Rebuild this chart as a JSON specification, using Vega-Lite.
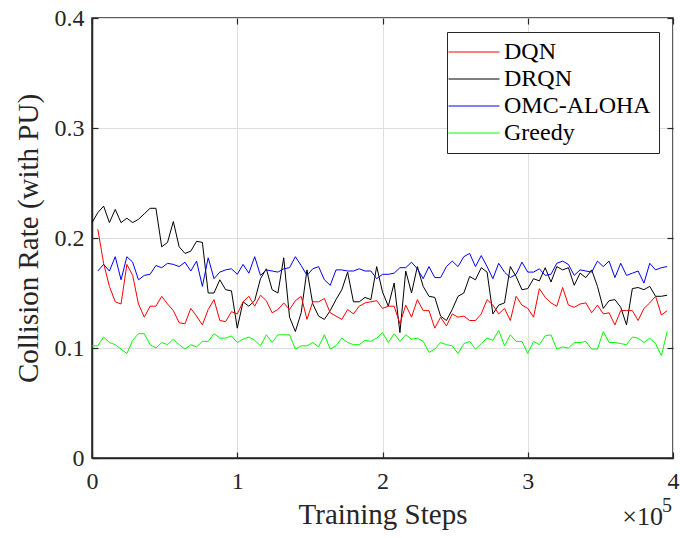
{
  "$schema": "https://vega.github.io/schema/vega-lite/v6.json",
  "width": 581,
  "height": 440,
  "autosize": "none",
  "padding": {"left": 92, "top": 18, "right": 7, "bottom": 80},
  "background": "white",
  "config": {
    "font": "Liberation Serif",
    "view": {"stroke": "#262626", "strokeWidth": 1.5},
    "axis": {
      "labelFont": "Liberation Serif",
      "titleFont": "Liberation Serif",
      "labelColor": "#262626",
      "titleColor": "#262626",
      "titleFontWeight": "normal",
      "domainColor": "#262626",
      "domainWidth": 1.5,
      "tickColor": "#262626",
      "tickWidth": 1.2,
      "gridColor": "#dedede",
      "gridWidth": 1
    }
  },
  "resolve": {"axis": {"x": "independent", "y": "independent"}},
  "datasets": {
    "curves": [
      {"step": 0, "DRQN": 0.214, "Greedy": 0.102},
      {"step": 4000, "DQN": 0.208, "DRQN": 0.223, "OMC-ALOHA": 0.170, "Greedy": 0.102},
      {"step": 8000, "DQN": 0.177, "DRQN": 0.229, "OMC-ALOHA": 0.176, "Greedy": 0.110},
      {"step": 12000, "DQN": 0.156, "DRQN": 0.214, "OMC-ALOHA": 0.170, "Greedy": 0.105},
      {"step": 16000, "DQN": 0.142, "DRQN": 0.226, "OMC-ALOHA": 0.183, "Greedy": 0.103},
      {"step": 20000, "DQN": 0.140, "DRQN": 0.214, "OMC-ALOHA": 0.162, "Greedy": 0.099},
      {"step": 24000, "DQN": 0.176, "DRQN": 0.218, "OMC-ALOHA": 0.183, "Greedy": 0.095},
      {"step": 28000, "DQN": 0.166, "DRQN": 0.214, "OMC-ALOHA": 0.178, "Greedy": 0.107},
      {"step": 32000, "DQN": 0.140, "DRQN": 0.217, "OMC-ALOHA": 0.162, "Greedy": 0.113},
      {"step": 36000, "DQN": 0.128, "DRQN": 0.222, "OMC-ALOHA": 0.166, "Greedy": 0.113},
      {"step": 40000, "DQN": 0.138, "DRQN": 0.227, "OMC-ALOHA": 0.167, "Greedy": 0.103},
      {"step": 44000, "DQN": 0.138, "DRQN": 0.227, "OMC-ALOHA": 0.175, "Greedy": 0.100},
      {"step": 48000, "DQN": 0.147, "DRQN": 0.192, "OMC-ALOHA": 0.173, "Greedy": 0.105},
      {"step": 52000, "DQN": 0.140, "DRQN": 0.196, "OMC-ALOHA": 0.177, "Greedy": 0.103},
      {"step": 56000, "DQN": 0.134, "DRQN": 0.215, "OMC-ALOHA": 0.176, "Greedy": 0.108},
      {"step": 60000, "DQN": 0.123, "DRQN": 0.192, "OMC-ALOHA": 0.174, "Greedy": 0.103},
      {"step": 64000, "DQN": 0.122, "DRQN": 0.186, "OMC-ALOHA": 0.178, "Greedy": 0.099},
      {"step": 68000, "DQN": 0.136, "DRQN": 0.188, "OMC-ALOHA": 0.170, "Greedy": 0.103},
      {"step": 72000, "DQN": 0.129, "DRQN": 0.197, "OMC-ALOHA": 0.179, "Greedy": 0.101},
      {"step": 76000, "DQN": 0.121, "DRQN": 0.196, "OMC-ALOHA": 0.156, "Greedy": 0.106},
      {"step": 80000, "DQN": 0.135, "DRQN": 0.150, "OMC-ALOHA": 0.182, "Greedy": 0.106},
      {"step": 84000, "DQN": 0.144, "DRQN": 0.150, "OMC-ALOHA": 0.163, "Greedy": 0.113},
      {"step": 88000, "DQN": 0.125, "DRQN": 0.162, "OMC-ALOHA": 0.169, "Greedy": 0.109},
      {"step": 92000, "DQN": 0.124, "DRQN": 0.153, "OMC-ALOHA": 0.171, "Greedy": 0.109},
      {"step": 96000, "DQN": 0.133, "DRQN": 0.152, "OMC-ALOHA": 0.172, "Greedy": 0.111},
      {"step": 100000, "DQN": 0.131, "DRQN": 0.118, "OMC-ALOHA": 0.167, "Greedy": 0.105},
      {"step": 104000, "DQN": 0.142, "DRQN": 0.142, "OMC-ALOHA": 0.176, "Greedy": 0.108},
      {"step": 108000, "DQN": 0.147, "DRQN": 0.138, "OMC-ALOHA": 0.168, "Greedy": 0.110},
      {"step": 112000, "DQN": 0.138, "DRQN": 0.143, "OMC-ALOHA": 0.183, "Greedy": 0.107},
      {"step": 116000, "DQN": 0.148, "DRQN": 0.163, "OMC-ALOHA": 0.166, "Greedy": 0.102},
      {"step": 120000, "DQN": 0.143, "DRQN": 0.172, "OMC-ALOHA": 0.171, "Greedy": 0.112},
      {"step": 124000, "DQN": 0.132, "DRQN": 0.153, "OMC-ALOHA": 0.170, "Greedy": 0.105},
      {"step": 128000, "DQN": 0.135, "DRQN": 0.150, "OMC-ALOHA": 0.169, "Greedy": 0.112},
      {"step": 132000, "DQN": 0.141, "DRQN": 0.182, "OMC-ALOHA": 0.172, "Greedy": 0.112},
      {"step": 136000, "DQN": 0.135, "DRQN": 0.128, "OMC-ALOHA": 0.173, "Greedy": 0.112},
      {"step": 140000, "DQN": 0.143, "DRQN": 0.115, "OMC-ALOHA": 0.183, "Greedy": 0.099},
      {"step": 144000, "DQN": 0.147, "DRQN": 0.132, "OMC-ALOHA": 0.175, "Greedy": 0.102},
      {"step": 148000, "DQN": 0.126, "DRQN": 0.171, "OMC-ALOHA": 0.166, "Greedy": 0.102},
      {"step": 152000, "DQN": 0.142, "DRQN": 0.140, "OMC-ALOHA": 0.172, "Greedy": 0.105},
      {"step": 156000, "DQN": 0.142, "DRQN": 0.129, "OMC-ALOHA": 0.174, "Greedy": 0.101},
      {"step": 160000, "DQN": 0.145, "DRQN": 0.126, "OMC-ALOHA": 0.162, "Greedy": 0.112},
      {"step": 164000, "DQN": 0.132, "DRQN": 0.134, "OMC-ALOHA": 0.157, "Greedy": 0.099},
      {"step": 168000, "DQN": 0.129, "DRQN": 0.144, "OMC-ALOHA": 0.171, "Greedy": 0.102},
      {"step": 172000, "DQN": 0.126, "DRQN": 0.153, "OMC-ALOHA": 0.171, "Greedy": 0.109},
      {"step": 176000, "DQN": 0.135, "DRQN": 0.169, "OMC-ALOHA": 0.170, "Greedy": 0.105},
      {"step": 180000, "DQN": 0.131, "DRQN": 0.142, "OMC-ALOHA": 0.170, "Greedy": 0.103},
      {"step": 184000, "DQN": 0.138, "DRQN": 0.142, "OMC-ALOHA": 0.172, "Greedy": 0.103},
      {"step": 188000, "DQN": 0.141, "DRQN": 0.146, "OMC-ALOHA": 0.170, "Greedy": 0.107},
      {"step": 192000, "DQN": 0.142, "DRQN": 0.144, "OMC-ALOHA": 0.170, "Greedy": 0.106},
      {"step": 196000, "DQN": 0.143, "DRQN": 0.174, "OMC-ALOHA": 0.163, "Greedy": 0.109},
      {"step": 200000, "DQN": 0.136, "DRQN": 0.151, "OMC-ALOHA": 0.167, "Greedy": 0.114},
      {"step": 204000, "DQN": 0.138, "DRQN": 0.138, "OMC-ALOHA": 0.167, "Greedy": 0.105},
      {"step": 208000, "DQN": 0.138, "DRQN": 0.159, "OMC-ALOHA": 0.168, "Greedy": 0.113},
      {"step": 212000, "DQN": 0.122, "DRQN": 0.114, "OMC-ALOHA": 0.173, "Greedy": 0.106},
      {"step": 216000, "DQN": 0.139, "DRQN": 0.170, "OMC-ALOHA": 0.173, "Greedy": 0.112},
      {"step": 220000, "DQN": 0.128, "DRQN": 0.150, "OMC-ALOHA": 0.178, "Greedy": 0.108},
      {"step": 224000, "DQN": 0.144, "DRQN": 0.174, "OMC-ALOHA": 0.172, "Greedy": 0.109},
      {"step": 228000, "DQN": 0.134, "DRQN": 0.156, "OMC-ALOHA": 0.163, "Greedy": 0.106},
      {"step": 232000, "DQN": 0.134, "DRQN": 0.147, "OMC-ALOHA": 0.174, "Greedy": 0.096},
      {"step": 236000, "DQN": 0.118, "DRQN": 0.146, "OMC-ALOHA": 0.164, "Greedy": 0.099},
      {"step": 240000, "DQN": 0.128, "DRQN": 0.129, "OMC-ALOHA": 0.164, "Greedy": 0.105},
      {"step": 244000, "DQN": 0.120, "DRQN": 0.125, "OMC-ALOHA": 0.174, "Greedy": 0.103},
      {"step": 248000, "DQN": 0.131, "DRQN": 0.135, "OMC-ALOHA": 0.179, "Greedy": 0.102},
      {"step": 252000, "DQN": 0.128, "DRQN": 0.147, "OMC-ALOHA": 0.174, "Greedy": 0.095},
      {"step": 256000, "DQN": 0.129, "DRQN": 0.150, "OMC-ALOHA": 0.183, "Greedy": 0.104},
      {"step": 260000, "DQN": 0.125, "DRQN": 0.165, "OMC-ALOHA": 0.186, "Greedy": 0.106},
      {"step": 264000, "DQN": 0.125, "DRQN": 0.162, "OMC-ALOHA": 0.174, "Greedy": 0.099},
      {"step": 268000, "DQN": 0.131, "DRQN": 0.173, "OMC-ALOHA": 0.184, "Greedy": 0.104},
      {"step": 272000, "DQN": 0.144, "DRQN": 0.169, "OMC-ALOHA": 0.174, "Greedy": 0.109},
      {"step": 276000, "DQN": 0.139, "DRQN": 0.131, "OMC-ALOHA": 0.163, "Greedy": 0.107},
      {"step": 280000, "DQN": 0.131, "DRQN": 0.139, "OMC-ALOHA": 0.177, "Greedy": 0.116},
      {"step": 284000, "DQN": 0.136, "DRQN": 0.141, "OMC-ALOHA": 0.169, "Greedy": 0.102},
      {"step": 288000, "DQN": 0.125, "DRQN": 0.174, "OMC-ALOHA": 0.164, "Greedy": 0.112},
      {"step": 292000, "DQN": 0.147, "DRQN": 0.165, "OMC-ALOHA": 0.167, "Greedy": 0.106},
      {"step": 296000, "DQN": 0.139, "DRQN": 0.153, "OMC-ALOHA": 0.178, "Greedy": 0.106},
      {"step": 300000, "DQN": 0.136, "DRQN": 0.154, "OMC-ALOHA": 0.169, "Greedy": 0.095},
      {"step": 304000, "DQN": 0.128, "DRQN": 0.163, "OMC-ALOHA": 0.169, "Greedy": 0.106},
      {"step": 308000, "DQN": 0.154, "DRQN": 0.161, "OMC-ALOHA": 0.172, "Greedy": 0.103},
      {"step": 312000, "DQN": 0.146, "DRQN": 0.173, "OMC-ALOHA": 0.166, "Greedy": 0.111},
      {"step": 316000, "DQN": 0.141, "DRQN": 0.160, "OMC-ALOHA": 0.167, "Greedy": 0.112},
      {"step": 320000, "DQN": 0.138, "DRQN": 0.174, "OMC-ALOHA": 0.177, "Greedy": 0.099},
      {"step": 324000, "DQN": 0.155, "DRQN": 0.171, "OMC-ALOHA": 0.179, "Greedy": 0.101},
      {"step": 328000, "DQN": 0.139, "DRQN": 0.173, "OMC-ALOHA": 0.176, "Greedy": 0.100},
      {"step": 332000, "DQN": 0.137, "DRQN": 0.157, "OMC-ALOHA": 0.166, "Greedy": 0.105},
      {"step": 336000, "DQN": 0.140, "DRQN": 0.168, "OMC-ALOHA": 0.171, "Greedy": 0.105},
      {"step": 340000, "DQN": 0.141, "DRQN": 0.164, "OMC-ALOHA": 0.170, "Greedy": 0.106},
      {"step": 344000, "DQN": 0.132, "DRQN": 0.171, "OMC-ALOHA": 0.169, "Greedy": 0.099},
      {"step": 348000, "DQN": 0.139, "DRQN": 0.156, "OMC-ALOHA": 0.179, "Greedy": 0.099},
      {"step": 352000, "DQN": 0.131, "DRQN": 0.136, "OMC-ALOHA": 0.174, "Greedy": 0.115},
      {"step": 356000, "DQN": 0.132, "DRQN": 0.143, "OMC-ALOHA": 0.179, "Greedy": 0.105},
      {"step": 360000, "DQN": 0.121, "DRQN": 0.144, "OMC-ALOHA": 0.164, "Greedy": 0.105},
      {"step": 364000, "DQN": 0.134, "DRQN": 0.137, "OMC-ALOHA": 0.177, "Greedy": 0.104},
      {"step": 368000, "DQN": 0.134, "DRQN": 0.121, "OMC-ALOHA": 0.166, "Greedy": 0.103},
      {"step": 372000, "DQN": 0.134, "DRQN": 0.154, "OMC-ALOHA": 0.168, "Greedy": 0.110},
      {"step": 376000, "DQN": 0.125, "DRQN": 0.155, "OMC-ALOHA": 0.170, "Greedy": 0.109},
      {"step": 380000, "DQN": 0.136, "DRQN": 0.153, "OMC-ALOHA": 0.159, "Greedy": 0.105},
      {"step": 384000, "DQN": 0.141, "DRQN": 0.156, "OMC-ALOHA": 0.177, "Greedy": 0.109},
      {"step": 388000, "DQN": 0.147, "DRQN": 0.147, "OMC-ALOHA": 0.171, "Greedy": 0.104},
      {"step": 392000, "DQN": 0.130, "DRQN": 0.147, "OMC-ALOHA": 0.173, "Greedy": 0.093},
      {"step": 396000, "DQN": 0.134, "DRQN": 0.148, "OMC-ALOHA": 0.174, "Greedy": 0.115}
    ]
  },
  "layer": [
    {
      "data": {"name": "curves"},
      "transform": [
        {"fold": ["DQN", "DRQN", "OMC-ALOHA", "Greedy"], "as": ["method", "rate"]},
        {"filter": "isValid(datum.rate)"}
      ],
      "mark": {"type": "line", "strokeWidth": 1},
      "encoding": {
        "x": {
          "field": "step",
          "type": "quantitative",
          "scale": {"domain": [0, 400000], "nice": false, "zero": false},
          "axis": {
            "orient": "bottom",
            "title": "Training Steps",
            "titleFont": "Liberation Serif",
            "titleFontSize": 29,
            "titlePadding": 7,
            "values": [0, 100000, 200000, 300000, 400000],
            "labelExpr": "datum.value / 100000",
            "labelFont": "Liberation Serif",
            "labelFontSize": 24,
            "labelPadding": 17,
            "tickSize": -6,
            "labelFlush": false,
            "grid": true
          }
        },
        "y": {
          "field": "rate",
          "type": "quantitative",
          "scale": {"domain": [0, 0.4], "nice": false},
          "axis": {
            "orient": "left",
            "title": "Collision Rate (with PU)",
            "titleFont": "Liberation Serif",
            "titleFontSize": 29,
            "titlePadding": 11,
            "values": [0, 0.1, 0.2, 0.3, 0.4],
            "format": ".1~f",
            "labelFont": "Liberation Serif",
            "labelFontSize": 24,
            "labelPadding": 14,
            "tickSize": -6,
            "grid": true
          }
        },
        "color": {
          "field": "method",
          "type": "nominal",
          "sort": ["DQN", "DRQN", "OMC-ALOHA", "Greedy"],
          "scale": {
            "domain": ["DQN", "DRQN", "OMC-ALOHA", "Greedy"],
            "range": ["#ff0000", "#000000", "#0000ff", "#00ff00"]
          },
          "legend": {
            "title": null,
            "orient": "top-right",
            "offset": 14,
            "strokeColor": "#262626",
            "fillColor": "white",
            "padding": 8,
            "cornerRadius": 0,
            "labelFont": "Liberation Serif",
            "labelFontSize": 24,
            "labelColor": "#000000",
            "symbolType": "M-3,0H3",
            "symbolSize": 289,
            "symbolStrokeWidth": 1,
            "symbolOffset": 7,
            "labelOffset": 18,
            "rowPadding": 3
          }
        }
      }
    },
    {
      "data": {"values": [{}]},
      "mark": {"type": "text", "text": "×10", "align": "right", "baseline": "alphabetic", "font": "Liberation Serif", "fontSize": 26, "dx": -10, "dy": 67, "color": "#262626"},
      "encoding": {
        "x": {"datum": 400000, "type": "quantitative", "axis": {"orient": "top", "labels": false, "title": null, "domain": false, "grid": false, "tickSize": -6, "values": [0, 100000, 200000, 300000, 400000]}},
        "y": {"datum": 0, "type": "quantitative", "axis": {"orient": "right", "labels": false, "title": null, "domain": false, "grid": false, "tickSize": -6, "values": [0, 0.1, 0.2, 0.3, 0.4]}}
      }
    },
    {
      "data": {"values": [{}]},
      "mark": {"type": "text", "text": "5", "align": "right", "baseline": "alphabetic", "font": "Liberation Serif", "fontSize": 20, "dx": -1, "dy": 54, "color": "#262626"},
      "encoding": {
        "x": {"datum": 400000, "type": "quantitative", "axis": null},
        "y": {"datum": 0, "type": "quantitative", "axis": null}
      }
    }
  ]
}
